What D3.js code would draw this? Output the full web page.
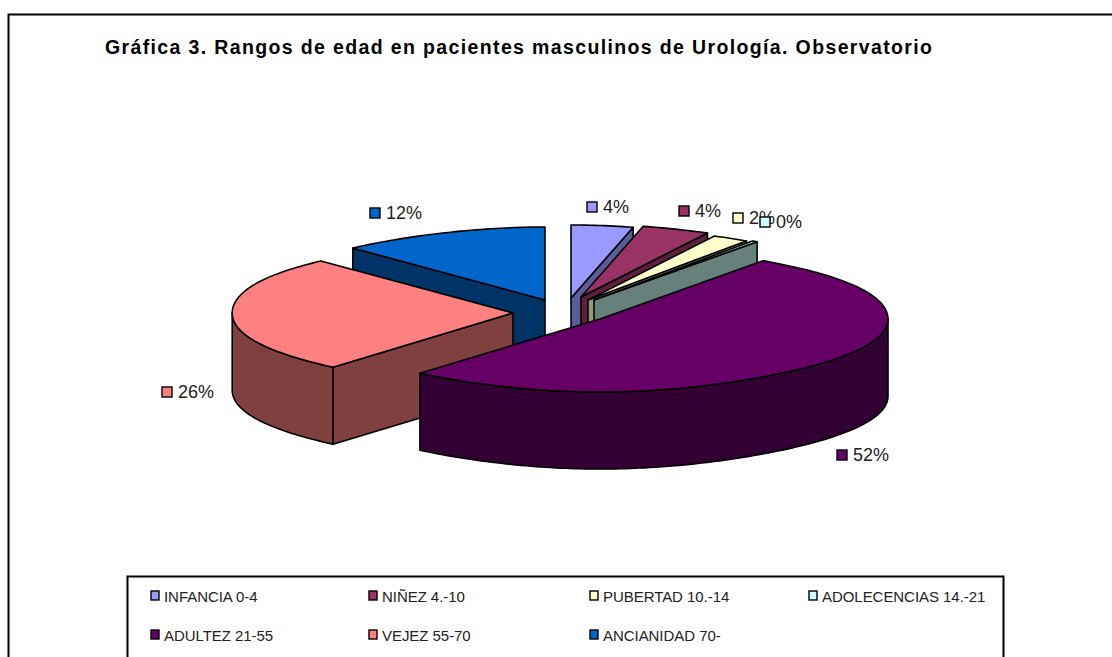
<!DOCTYPE html>
<html><head><meta charset="utf-8">
<script src="https://cdnjs.cloudflare.com/ajax/libs/d3/7.8.5/d3.min.js"></script>
<style>html,body{margin:0;padding:0;background:#fff}svg{display:block}text{font-family:"Liberation Sans",Arial,sans-serif}</style>
</head><body><svg id="c" width="1112" height="657"></svg>
<script>
const categories=["INFANCIA 0-4","NIÑEZ 4.-10","PUBERTAD 10.-14","ADOLECENCIAS 14.-21","ADULTEZ 21-55","VEJEZ 55-70","ANCIANIDAD 70-"];
const values=[4.0,4.0,2.0,0.3,51.4,25.9,12.4];
const labels=["4%","4%","2%","0%","52%","26%","12%"];
const topColors=["#9999FF","#993366","#FFFFCC","#CCFFFF","#660066","#FF8080","#0066CC"];
const sideColors=["#5C5C99","#5C1F3D","#99997A","#66807C","#330033","#804040","#003366"];
const title="Gráfica 3. Rangos de edad en pacientes masculinos de Urología. Observatorio";

// layout configuration (per-slice exploded apex, label anchor)
const apex=[[571,298],[581,297],[588,300],[594,300],[600,319],[513,313],[545,300]];
const labelPos=[[587,207],[679,211],[733,218],[760,222],[837,455],[162,392],[370,213]];
const legendPos=[[151,597],[369,597],[590,597],[809,597],[151,636],[369,636],[590,636]];
const R=288,RY=73,DEPTH=77;

const svg=d3.select("#c");
const pie=d3.pie().sort(null).value(d=>d)(values);

// map clock angle (radians, 0 = up, clockwise) to surface offset with foreshortening
function proj(a){
  const t=-Math.cos(a);
  const f=t<0?1-0.15*Math.pow(-t,4):1-0.14*Math.pow(t,3);
  const side=Math.sin(a)<0?1-0.025*(1-t*t):1;
  return [R*Math.sin(a)*f*side,RY*t];
}
const line=d3.line();
function arcPts(i,a0,a1){
  const n=Math.max(2,Math.ceil((a1-a0)/0.02));
  return d3.range(n+1).map(k=>{const a=a0+(a1-a0)*k/n;const p=proj(a);return [apex[i][0]+p[0],apex[i][1]+p[1]];});
}
const gFrame=svg.append("g");
gFrame.append("path").attr("d","M8.5,670V14.5H1112").attr("fill","none").attr("stroke","#000").attr("stroke-width",2);

svg.append("text").attr("x",105).attr("y",54).attr("font-size",19.5).attr("font-weight","bold").attr("fill","#000")
  .attr("textLength",827).attr("lengthAdjust","spacing").text(title);

const drawOrder=[0,1,2,3,6,5,4];
const style=s=>s.attr("stroke","#000").attr("stroke-width",1.6).attr("stroke-linejoin","round");
const gPie=svg.append("g");
drawOrder.forEach(i=>{
  const s=pie[i],[ax,ay]=apex[i],g=gPie.append("g");
  const a0=s.startAngle,a1=s.endAngle;
  const cut=a=>{
    const p=proj(a),ex=ax+p[0],ey=ay+p[1];
    return [[ax,ay],[ex,ey],[ex,ey+DEPTH],[ax,ay+DEPTH]];
  };
  // cut faces, only those turned towards the viewer
  if(Math.cos(a0-Math.PI/2)<-1e-6) style(g.append("path").attr("d",line(cut(a0))+"Z").attr("fill",sideColors[i]));
  if(Math.cos(a1+Math.PI/2)<-1e-6) style(g.append("path").attr("d",line(cut(a1))+"Z").attr("fill",sideColors[i]));
  // outer wall on the front half
  const w0=Math.max(a0,Math.PI/2),w1=Math.min(a1,3*Math.PI/2);
  if(w1>w0){
    const top=arcPts(i,w0,w1),bot=top.map(p=>[p[0],p[1]+DEPTH]).reverse();
    style(g.append("path").attr("d",line(top.concat(bot))+"Z").attr("fill",sideColors[i]));
  }
  // top surface
  style(g.append("path").attr("d",line([[ax,ay]].concat(arcPts(i,a0,a1)))+"Z").attr("fill",topColors[i]));
});

const gLab=svg.append("g");
labels.forEach((t,i)=>{
  const [x,y]=labelPos[i];
  gLab.append("rect").attr("x",x).attr("y",y-5).attr("width",10).attr("height",10).attr("fill",topColors[i]).attr("stroke","#000").attr("stroke-width",1.4);
  gLab.append("text").attr("x",x+16).attr("y",y+6).attr("font-size",18).attr("fill","#222").text(t);
});

const gLeg=svg.append("g");
gLeg.append("path").attr("d","M127.5,670V576.5H1003.5V670").attr("fill","#fff").attr("stroke","#000").attr("stroke-width",2);
categories.forEach((t,i)=>{
  const [x,y]=legendPos[i];
  gLeg.append("rect").attr("x",x).attr("y",y-6).attr("width",8).attr("height",9).attr("fill",topColors[i]).attr("stroke","#000").attr("stroke-width",1.4);
  gLeg.append("text").attr("x",x+13).attr("y",y+5).attr("font-size",15).attr("letter-spacing","-0.05").attr("fill","#222").text(t);
});
</script></body></html>
